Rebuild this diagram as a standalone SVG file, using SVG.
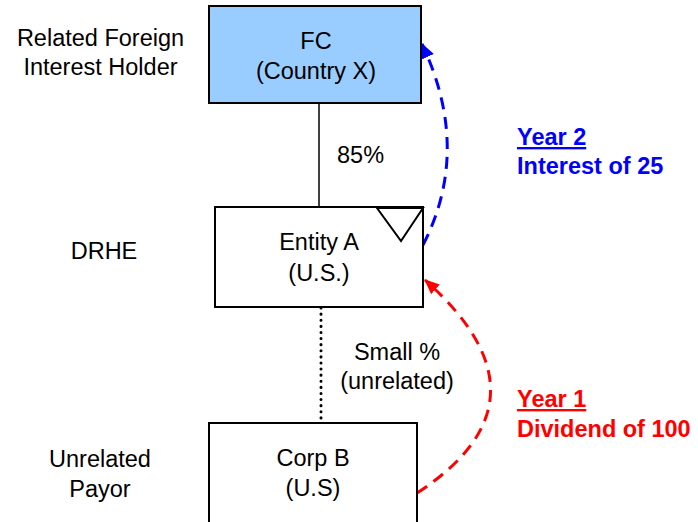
<svg xmlns="http://www.w3.org/2000/svg" width="698" height="522" viewBox="0 0 698 522">
<style>
text{font-family:"Liberation Sans",Arial,sans-serif;font-size:23.5px;fill:#000}
.c{text-anchor:middle}
.box{stroke:#000;stroke-width:2}
.blue{fill:#0000ff;font-weight:bold}
.red{fill:#ff0000;font-weight:bold}
</style>
<defs>
<marker id="ab" markerWidth="15" markerHeight="13" refX="14" refY="6.5" orient="auto" markerUnits="userSpaceOnUse"><path d="M0,0 L15,6.5 L0,13 z" fill="#0000ff"/></marker>
<marker id="ar" markerWidth="15" markerHeight="13" refX="14" refY="6.5" orient="auto" markerUnits="userSpaceOnUse"><path d="M0,0 L15,6.5 L0,13 z" fill="#ff0000"/></marker>
</defs>
<g id="labels">
<text x="100.5" y="46" class="c">Related Foreign</text>
<text x="100.5" y="75" class="c">Interest Holder</text>
<text x="104" y="259" class="c">DRHE</text>
<text x="100" y="467" class="c">Unrelated</text>
<text x="100" y="497" class="c">Payor</text>
</g>
<g id="connectors" fill="none">
<line x1="319" y1="103" x2="319" y2="207" stroke="#000" stroke-width="1.5"/>
<line x1="321" y1="308" x2="321" y2="422" stroke="#000" stroke-width="3" stroke-dasharray="0.1 6" stroke-linecap="round"/>
<path d="M423,245 Q472,150 422,44" stroke="#0000ff" stroke-width="3" stroke-dasharray="12 8" marker-end="url(#ab)"/>
<path d="M417,493 Q560,400 425,280" stroke="#ff0000" stroke-width="3" stroke-dasharray="12 8" marker-end="url(#ar)"/>
<text x="337" y="163">85%</text>
<text x="397" y="360" class="c">Small %</text>
<text x="397" y="389" class="c">(unrelated)</text>
</g>
<g id="fc">
<rect x="209" y="6" width="212" height="97" fill="#99ccff" class="box"/>
<text x="316" y="49" class="c">FC</text>
<text x="316" y="79" class="c">(Country X)</text>
</g>
<g id="entityA">
<rect x="215" y="207" width="208" height="100" fill="#fff" class="box"/>
<path d="M377,208 L423,208 L401,241 Z" fill="#fff" stroke="#000" stroke-width="2"/>
<text x="319" y="250" class="c">Entity A</text>
<text x="319" y="281" class="c">(U.S.)</text>
</g>
<g id="corpB">
<rect x="209" y="423" width="208" height="110" fill="#fff" class="box"/>
<text x="313" y="466" class="c">Corp B</text>
<text x="313" y="496" class="c">(U.S)</text>
</g>
<g id="year2">
<text x="517" y="145" class="blue" text-decoration="underline">Year 2</text>
<text x="517" y="174" class="blue">Interest of 25</text>
</g>
<g id="year1">
<text x="517" y="407" class="red" text-decoration="underline">Year 1</text>
<text x="517" y="437" class="red">Dividend of 100</text>
</g>
</svg>
